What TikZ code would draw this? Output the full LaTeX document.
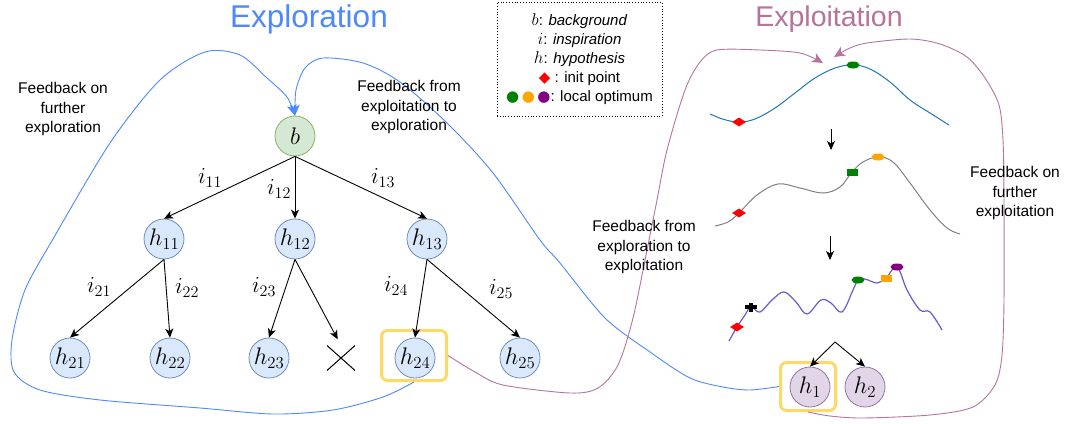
\RequirePackage{fix-cm}
\documentclass[tikz,border=0pt]{standalone}
\usepackage[no-math]{fontspec}
\newfontfamily\lsans{Liberation Sans}
\newfontfamily\dvs{DejaVu Sans}
\usetikzlibrary{arrows.meta,shapes.geometric,shapes.misc}
\definecolor{exBlue}{RGB}{77,136,255}
\definecolor{exPurple}{RGB}{181,115,157}
\definecolor{ndBlue}{RGB}{218,232,252}
\definecolor{ndBlueLine}{RGB}{108,142,191}
\definecolor{ndGreen}{RGB}{213,232,212}
\definecolor{ndGreenLine}{RGB}{130,179,102}
\definecolor{ndPurple}{RGB}{225,213,231}
\definecolor{ndPurpleLine}{RGB}{150,115,166}
\definecolor{hlYellow}{RGB}{255,217,102}
\definecolor{plBlue}{RGB}{31,119,180}
\definecolor{plSlate}{RGB}{106,90,205}
\definecolor{optGreen}{RGB}{0,128,0}
\definecolor{optOrange}{RGB}{255,165,0}
\definecolor{optPurple}{RGB}{128,0,128}

\begin{document}
\begin{tikzpicture}[
  x=1pt, y=-1pt,
  hyp/.style={circle, draw=ndBlueLine, fill=ndBlue, line width=0.8pt, minimum size=40pt, inner sep=0pt, font=\fontsize{24}{26}\selectfont},
  bgn/.style={hyp, draw=ndGreenLine, fill=ndGreen},
  hyq/.style={hyp, draw=ndPurpleLine, fill=ndPurple},
  hl/.style={draw=hlYellow, line width=3pt, rounded corners=6pt, inner sep=0pt},
  lb/.style={font=\fontsize{23}{26}\selectfont},
  fb/.style={font=\lsans\fontsize{15.5}{19.5}\selectfont, align=center},
  ttl/.style={font=\lsans\fontsize{#1}{34}\selectfont},
  tarr/.style={-{Stealth[length=9pt,width=8pt,inset=2.5pt]}, line width=0.9pt},
  fbx/.style={-{Stealth[length=11pt,width=10pt,inset=3pt]}, line width=0.9pt, draw=#1},
  mkinit/.style={diamond, fill=red, inner sep=0pt, minimum width=14pt, minimum height=9pt},
  mkopt/.style={ellipse, fill=#1, inner sep=0pt, minimum width=13pt, minimum height=7pt},
  mkx/.style={rectangle, fill=#1, inner sep=0pt, minimum width=11pt, minimum height=7pt},
  mkbar/.style={rectangle, fill=black, inner sep=0pt, minimum width=12pt, minimum height=3.5pt}
]
\useasboundingbox (0,0) rectangle (1065,423);

% titles
\node[ttl=31.5, text=exBlue] (ttlA) at (309,19) {Exploration};
\node[ttl=28.5, text=exPurple] (ttlB) at (829,19) {Exploitation};

% legend
\node[draw, dotted, line width=0.8pt, minimum width=165pt, minimum height=114pt, align=center,
  font=\lsans\fontsize{15}{19}\selectfont] (legend) at (579.5,59)
  {{\fontsize{17}{19}\selectfont$b$}: \textit{background}\\
   {\fontsize{17}{19}\selectfont$i$}: \textit{inspiration}\\
   {\fontsize{17}{19}\selectfont$h$}: \textit{hypothesis}\\
   {\dvs\color{red}◆} : init point\\
   {\dvs\color{optGreen}●\,\color{optOrange}●\,\color{optPurple}●}: local optimum};

% exploration tree
\node[bgn] (b) at (295,136) {$b$};
\foreach \s/\x/\y in {11/164/239, 12/295/239, 13/427/239, 21/70/358, 22/170/358, 23/269/358, 24/415/358, 25/520/358}
  \node[hyp] (h\s) at (\x,\y) {$h_{\s}$};
\node[cross out, draw, line width=1pt, minimum width=27pt, minimum height=24pt, inner sep=0pt] (hx) at (341,358) {};
\node[hl, minimum width=65pt, minimum height=50pt] (h24box) at (414,355.5) {};
\foreach \a/\b in {b/h11, b/h12, b/h13, h11/h21, h11/h22, h12/h23, h13/h24, h13/h25}
  \draw[tarr] (\a.south) -- (\b.north);
\draw[tarr, shorten >=7pt] (h12.south) -- (hx.north);
\foreach \s/\x/\y in {11/210/178, 12/279/189, 13/383/178, 21/99/287, 22/187/288, 23/264/287, 24/396/286, 25/501/289}
  \node[lb] (i\s) at (\x,\y) {$i_{\s}$};

% exploitation curves
\draw[plBlue, line width=1pt] plot[smooth, tension=0.6] coordinates {(710,114) (724,119.5) (739,122) (755,119) (775,108) (795,93) (815,78) (835,68) (853,65) (870,69) (890,82) (910,100) (930,113) (949,125)};
\node[mkinit] (init1) at (739,122) {};
\node[mkopt=optGreen] (opt1) at (853,65) {};

\draw[gray, line width=1pt] plot[smooth, tension=0.6] coordinates {(715,226) (728,222) (739,213) (757,195) (778,184) (800,188) (823,193) (840,187) (852,172) (863,162) (878,157) (893,162) (910,183) (930,210) (947,228) (960,234)};
\node[mkinit] (init2) at (739,213) {};
\node[mkx=optGreen] (opt2a) at (852,172) {};
\node[mkopt=optOrange] (opt2b) at (878,157) {};

\draw[plSlate, line width=1.2pt] plot[smooth, tension=0.6] coordinates {(729,341) (737,327) (745,315) (751,307) (760,312) (772,300) (784,292) (796,302) (807,314) (821,300) (831,303) (842,312) (853,290) (858,280) (865,279) (877,283) (886,278) (897,267) (907,290) (920,310) (930,312) (942,330)};
\node[mkinit] (init3) at (737,327) {};
\node[mkbar] (pl3) at (751,307) {};
\node[mkbar, minimum width=4pt, minimum height=9pt] (pl3v) at (751,307) {};
\node[mkopt=optGreen] (opt3a) at (858,280) {};
\node[mkx=optOrange] (opt3b) at (886,278) {};
\node[mkopt=optPurple] (opt3c) at (897,267) {};

\coordinate (d1a) at (831,129);
\coordinate (d1b) at (831,150);
\coordinate (d2a) at (830,236);
\coordinate (d2b) at (830,260);
\draw[tarr] (d1a) -- (d1b);
\draw[tarr] (d2a) -- (d2b);

% child hypotheses
\node[hyq] (h1) at (810,387) {$h_{1}$};
\node[hyq] (h2) at (865,387) {$h_{2}$};
\node[hl, minimum width=55pt, minimum height=48pt] (h1box) at (808,386.5) {};
\coordinate (split) at (835,342);
\draw[tarr] (split) -- (h1.north);
\draw[tarr] (split) -- (h2.north);

% feedback loops
\coordinate (fbin1) at (823,63);
\coordinate (fbin2) at (834,57);
\draw[fbx=exBlue] plot[smooth] coordinates {(h24box.south) (383,397) (333,410) (273,414) (200,408) (100,400) (40,390) (14,372) (12,340) (25,290) (53,239) (110,143) (160,80) (205,52) (240,55) (267,78) (287,97) (b.north)};
\draw[fbx=exBlue] plot[smooth] coordinates {(h1box.west) (750,390) (723,387) (690,378) (650,352) (605,318) (560,263) (540,240) (493,173) (447,123) (400,82) (363,63) (323,58) (305,68) (296,90) (b.north)};
\draw[fbx=exPurple] plot[smooth] coordinates {(h24box.east) (475,372) (503,385) (570,393) (598,388) (618,365) (633,318) (647,250) (657,200) (667,150) (685,90) (700,62) (717,50) (760,50) (800,53) (fbin1)};
\draw[fbx=exPurple] plot[smooth] coordinates {(h1box.south) (830,416) (863,418) (930,415) (973,407) (995,385) (1002,355) (1004,300) (1004,200) (1003,140) (999,105) (985,78) (967,57) (940,44) (910,39) (867,43) (850,48) (fbin2)};

% feedback labels
\node[fb] (fbA) at (63,109) {Feedback on\\further\\exploration};
\node[fb] (fbB) at (409,107) {Feedback from\\exploitation to\\exploration};
\node[fb] (fbC) at (644,247) {Feedback from\\exploration to\\exploitation};
\node[fb] (fbD) at (1015,193) {Feedback on\\further\\exploitation};
\end{tikzpicture}
\end{document}
